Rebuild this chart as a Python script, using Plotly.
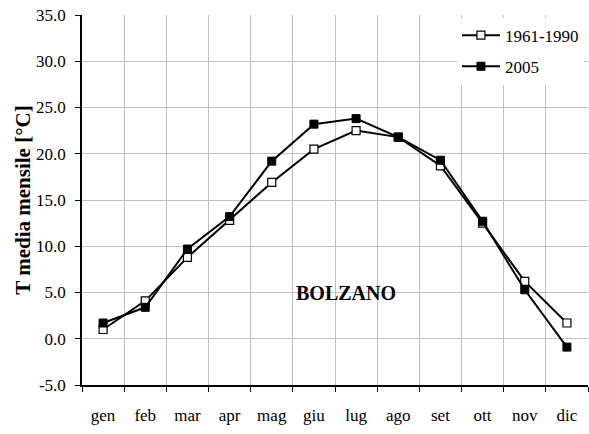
import plotly.graph_objects as go

months = ["gen", "feb", "mar", "apr", "mag", "giu", "lug", "ago", "set", "ott", "nov", "dic"]
t_1961_1990 = [1.0, 4.1, 8.8, 12.8, 16.9, 20.5, 22.5, 21.8, 18.7, 12.5, 6.2, 1.7]
t_2005 = [1.7, 3.4, 9.7, 13.2, 19.2, 23.2, 23.8, 21.8, 19.3, 12.7, 5.3, -0.9]
ytick_vals = [-5, 0, 5, 10, 15, 20, 25, 30, 35]
ytick_text = ["-5.0", "0.0", "5.0", "10.0", "15.0", "20.0", "25.0", "30.0", "35.0"]

SERIF = "Liberation Serif"

fig = go.Figure()
fig.add_trace(go.Scatter(
    x=months, y=t_1961_1990, name="1961-1990", mode="lines+markers",
    line=dict(color="black", width=2),
    marker=dict(symbol="square", size=8, color="white", line=dict(color="black", width=1.2)),
    legendgroup="a",
))
fig.add_trace(go.Scatter(
    x=months, y=t_2005, name="2005", mode="lines+markers",
    line=dict(color="black", width=2),
    marker=dict(symbol="square", size=8, color="black", line=dict(color="black", width=1)),
    legendgroup="b",
))

fig.update_layout(
    width=589, height=434,
    margin=dict(l=82, r=1, t=15, b=49, autoexpand=False),
    paper_bgcolor="white", plot_bgcolor="white",
    font=dict(family=SERIF, size=15, color="black"),
    showlegend=True,
    legend=dict(
        x=0.741, y=0.993, xanchor="left", yanchor="top",
        bgcolor="white", borderwidth=0, itemwidth=38,
        font=dict(family=SERIF, size=17, color="black"),
        traceorder="grouped", tracegroupgap=6,
    ),
    annotations=[dict(
        text="BOLZANO", x=0.522, y=5.0, xref="paper", yref="y",
        xanchor="center", yanchor="middle",
        showarrow=False, font=dict(family=SERIF, size=20, color="black", weight="bold"),
    )],
)

fig.update_xaxes(
    type="category", range=[-0.5, 11.5], automargin=False,
    tickson="boundaries", ticks="outside", ticklen=5, tickcolor="black",
    showgrid=True, gridcolor="#c0c0c0", gridwidth=1,
    showline=True, linecolor="black", linewidth=1.5,
    tickfont=dict(family=SERIF, size=17, color="black"), ticklabelstandoff=14,
    fixedrange=True,
)
fig.update_yaxes(
    range=[-5, 35], tickvals=ytick_vals, ticktext=ytick_text, automargin=False,
    ticks="outside", ticklen=5, tickcolor="black",
    showgrid=True, gridcolor="#c0c0c0", gridwidth=1, zeroline=False,
    showline=True, linecolor="black", linewidth=1.5,
    tickfont=dict(family=SERIF, size=17, color="black"), ticklabelstandoff=6,
    title=dict(text="T media mensile [°C]", font=dict(family=SERIF, size=21, weight="bold", color="black"), standoff=0),
    fixedrange=True,
)

fig.write_html(
    "out.html",
    config={"displayModeBar": False},
    post_script="document.body.style.margin='0';document.body.style.padding='0';",
)
